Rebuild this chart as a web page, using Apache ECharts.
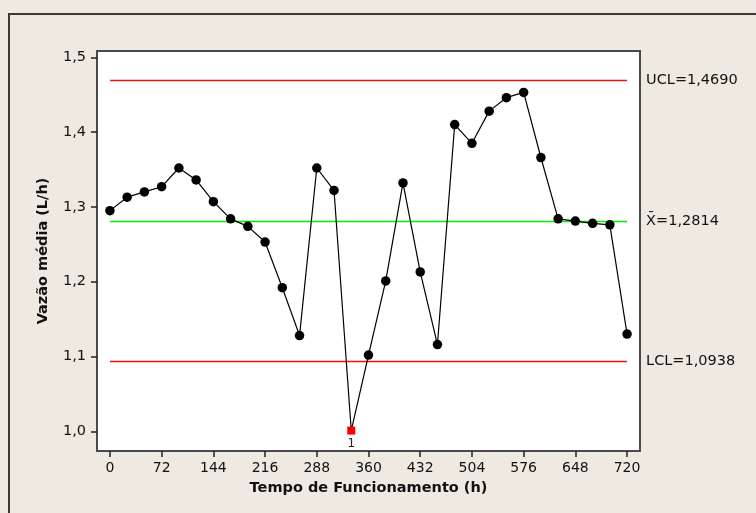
<!DOCTYPE html>
<html>
<head>
<meta charset="utf-8">
<title>Carta de controle - Vazão média</title>
<script src="https://cdn.jsdelivr.net/npm/echarts@6/dist/echarts.min.js"></script>
<style>
  html, body { margin: 0; padding: 0; background: #EEEAE1; }
  #chart { width: 756px; height: 513px; }
</style>
</head>
<body>
<div id="chart"></div>
<script>
// Operating time (h) of each sample
const tempos = [0, 24, 48, 72, 96, 120, 144, 168, 192, 216, 240, 264, 288, 312, 336,
                360, 384, 408, 432, 456, 480, 504, 528, 552, 576, 600, 624, 648, 672, 696, 720];
// Mean flow of each sample (L/h)
const vazoes = [1.295, 1.313, 1.320, 1.327, 1.352, 1.336, 1.307, 1.284, 1.274, 1.253,
                1.192, 1.128, 1.352, 1.322, 1.001, 1.102, 1.201, 1.332, 1.213, 1.116,
                1.410, 1.385, 1.428, 1.446, 1.453, 1.366, 1.284, 1.281, 1.278, 1.276, 1.130];
// Samples that failed test 1 (index into the arrays above) and their test number
const pontosForaIdx = [14];
const pontosForaTeste = ['1'];

// Control limits
const UCL = 1.4690;
const MEDIA = 1.2814;
const LCL = 1.0938;

// Axis ticks
const ticksX = [0, 72, 144, 216, 288, 360, 432, 504, 576, 648, 720];
const ticksY = [1.0, 1.1, 1.2, 1.3, 1.4, 1.5];

const FONT = '"DejaVu Sans", Verdana, sans-serif';
const fmtBR = (v, d) => v.toFixed(d).replace('.', ',');

const pontos = tempos.map((t, i) => {
  const k = pontosForaIdx.indexOf(i);
  if (k < 0) return [t, vazoes[i]];
  return {
    value: [t, vazoes[i]],
    symbol: 'rect',
    symbolSize: 8,
    itemStyle: { color: '#FF0000' },
    label: {
      show: true, position: 'bottom', distance: 3,
      formatter: pontosForaTeste[k],
      fontFamily: FONT, fontSize: 12, color: '#222'
    }
  };
});

// Horizontal control line from the first to the last sample, labelled at its right end
function linhaControle(valor, cor, texto) {
  const x0 = tempos[0], x1 = tempos[tempos.length - 1];
  return [
    { coord: [x0, valor], lineStyle: { color: cor, width: 1.3, type: 'solid' } },
    {
      coord: [x1, valor],
      label: {
        show: true, position: 'end', distance: 19,
        formatter: texto,
        fontFamily: FONT, fontSize: 14.5, color: '#111'
      }
    }
  ];
}

const eixoLinha = { show: true, onZero: false, lineStyle: { color: '#4a4a4a', width: 2 } };
const eixoTick = (valores) => ({
  show: true, inside: false, length: 6,
  customValues: valores,
  lineStyle: { color: '#222', width: 1.5 }
});

const chart = echarts.init(document.getElementById('chart'), null, { renderer: 'canvas' });

chart.setOption({
  animation: false,
  backgroundColor: '#EEEAE1',
  textStyle: { fontFamily: FONT },
  graphic: [{
    type: 'rect',
    z: -10,
    shape: { x: 9, y: 14, width: 800, height: 600 },
    style: { fill: '#EEEAE1', stroke: '#3a3a3a', lineWidth: 2 }
  }],
  grid: {
    left: 97, top: 51, width: 543, height: 400,
    show: true, backgroundColor: '#FFFFFF',
    borderColor: '#4a4a4a', borderWidth: 2
  },
  xAxis: {
    type: 'value',
    min: -18, max: 738,
    name: 'Tempo de Funcionamento (h)',
    nameLocation: 'middle',
    nameGap: 30,
    nameTextStyle: { fontFamily: FONT, fontSize: 14.5, fontWeight: 'bold', color: '#111' },
    axisLine: eixoLinha,
    splitLine: { show: false },
    axisTick: eixoTick(ticksX),
    axisLabel: {
      customValues: ticksX,
      margin: 10,
      fontFamily: FONT, fontSize: 14, color: '#111'
    }
  },
  yAxis: {
    type: 'value',
    min: 0.9737, max: 1.5084,
    name: 'Vazão média (L/h)',
    nameLocation: 'middle',
    nameGap: 46,
    nameTextStyle: { fontFamily: FONT, fontSize: 14.5, fontWeight: 'bold', color: '#111' },
    axisLine: eixoLinha,
    splitLine: { show: false },
    axisTick: eixoTick(ticksY),
    axisLabel: {
      customValues: ticksY,
      margin: 11,
      formatter: v => fmtBR(v, 1),
      fontFamily: FONT, fontSize: 14.5, color: '#111'
    }
  },
  series: [
    {
      type: 'line',
      name: 'Vazão média',
      z: 3,
      data: pontos,
      symbol: 'circle',
      symbolSize: 9.5,
      itemStyle: { color: '#000000' },
      lineStyle: { color: '#000000', width: 1.2 },
      markLine: {
        silent: true,
        symbol: 'none',
        z: 1,
        animation: false,
        data: [
          linhaControle(UCL, '#F01010', 'UCL=' + fmtBR(UCL, 4)),
          linhaControle(MEDIA, '#00F000', 'X\u0304=' + fmtBR(MEDIA, 4)),
          linhaControle(LCL, '#F01010', 'LCL=' + fmtBR(LCL, 4))
        ]
      }
    }
  ]
});
</script>
</body>
</html>
